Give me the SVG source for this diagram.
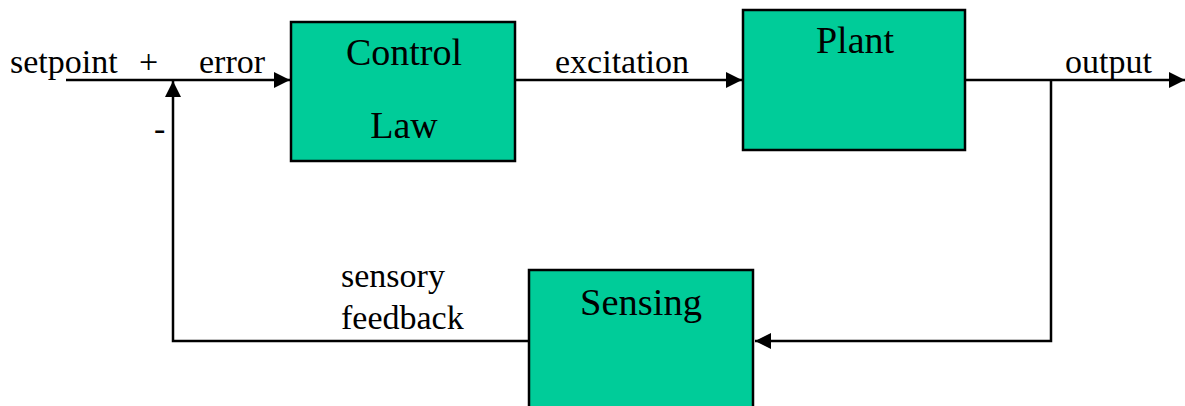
<svg xmlns="http://www.w3.org/2000/svg" width="1185" height="406" viewBox="0 0 1185 406">
<style>
.box{fill:#00CC99;stroke:#000;stroke-width:2.5}
.ln{fill:none;stroke:#000;stroke-width:2.5}
.lbl{font-size:34px}
.big{font-size:38px;text-anchor:middle}
</style>
<defs>
<marker id="ah" viewBox="0 0 10 10" refX="10" refY="5" markerWidth="16" markerHeight="16" markerUnits="userSpaceOnUse" orient="auto">
<path d="M0,0 L10,5 L0,10 Z" fill="#000"/>
</marker>
</defs>
<rect width="1185" height="406" fill="#fff"/>
<g id="connectors">
<line class="ln" x1="66" y1="80" x2="290" y2="80" marker-end="url(#ah)"/>
<line class="ln" x1="515" y1="80" x2="742" y2="80" marker-end="url(#ah)"/>
<line class="ln" x1="965" y1="80" x2="1185" y2="80" marker-end="url(#ah)"/>
<polyline class="ln" points="1051,80 1051,341 755,341" marker-end="url(#ah)"/>
<polyline class="ln" points="529,341 173,341 173,81" marker-end="url(#ah)"/>
</g>
<g id="labels" font-family="'Liberation Serif', 'Times New Roman', serif" fill="#000">
<text class="lbl" x="10" y="73">setpoint</text>
<text class="lbl" x="139" y="73">+</text>
<text class="lbl" x="199" y="73">error</text>
<text class="lbl" x="154" y="140">-</text>
<text class="lbl" x="555" y="73">excitation</text>
<text class="lbl" x="1065" y="73">output</text>
<text class="lbl" x="341" y="287">sensory</text>
<text class="lbl" x="341" y="329">feedback</text>
</g>
<g id="control-law" font-family="'Liberation Serif', 'Times New Roman', serif" fill="#000">
<rect class="box" x="291" y="22" width="224" height="139"/>
<text class="big" x="404" y="65">Control</text>
<text class="big" x="404" y="138">Law</text>
</g>
<g id="plant" font-family="'Liberation Serif', 'Times New Roman', serif" fill="#000">
<rect class="box" x="743" y="10" width="222" height="140"/>
<text class="big" x="855" y="53">Plant</text>
</g>
<g id="sensing" font-family="'Liberation Serif', 'Times New Roman', serif" fill="#000">
<rect class="box" x="529" y="270" width="224" height="140"/>
<text class="big" x="641" y="315" textLength="122" lengthAdjust="spacingAndGlyphs">Sensing</text>
</g>
</svg>
